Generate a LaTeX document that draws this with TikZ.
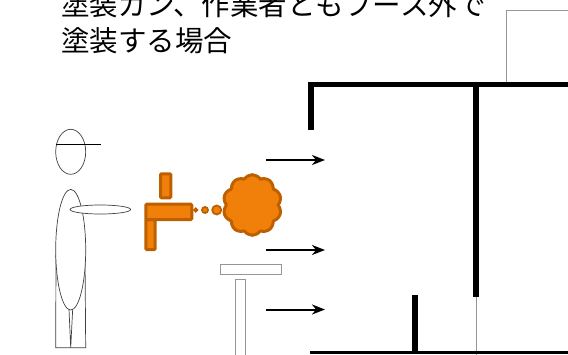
\documentclass[tikz,border=0pt]{standalone}
\usepackage{fontspec}
\newfontfamily\cjk{Noto Sans CJK JP}
\usetikzlibrary{arrows.meta,shapes.symbols}

\definecolor{paint}{RGB}{240,128,10}
\definecolor{paintline}{RGB}{190,95,0}
\definecolor{frame}{RGB}{150,150,150}

\begin{document}
\begin{tikzpicture}[x=1pt,y=-1pt,
  wall/.style={line width=5.7pt},
  thin/.style={draw=frame,line width=1pt},
  body/.style={draw=black!75,line width=0.7pt,fill=white},
  gun/.style={draw=paintline,fill=paint,line width=3pt,rounded corners=1pt},
  air/.style={-{Stealth[length=13pt,width=10pt,inset=4pt]},line width=2pt},
  title/.style={font=\cjk\fontsize{28.5pt}{36pt}\selectfont,inner sep=0pt,anchor=base west}]

\useasboundingbox (0,0) rectangle (568,354);

% heading
\node[title](head1) at (61,15){塗装ガン、作業者ともブース外で};
\node[title](head2) at (61,51.5){塗装する場合};

% booth walls
\draw[thin] (506,82) -- (506,10) -- (568,10);
\draw[thin] (476,296) -- (476,356);
\draw[wall] (310.7,130) -- (310.7,84.5) -- (568,84.5);
\draw[wall] (476,87) -- (476,296.7);
\draw[wall] (415.3,295) -- (415.3,352);
\draw[line width=2.5pt] (310,352.7) -- (568,352.7);

% worker
\draw[body] (56,255) -- (55.7,347.7) -- (85.7,347.7) -- (85,255);
\draw[body] (69,309) -- (70.7,347.7) -- (72.7,309);
\draw[body] (70.7,249.7) ellipse (15pt and 60.3pt);
\draw[body] (70.7,151.8) ellipse (15pt and 22.5pt);
\draw[line width=0.8pt] (56.3,144.3) -- (100.7,144.3);
\draw[body] (100.3,209.5) ellipse (30.3pt and 4.5pt);

% stand
\draw[thin,line width=0.8pt] (220.7,264.3) rectangle (281,274.3);
\draw[thin,line width=0.8pt] (235.7,360) -- (235.7,279.3) -- (245.7,279.3) -- (245.7,360);

% spray gun and mist
\draw[gun] (160.5,173.8) rectangle (170.8,197.8);
\draw[gun] (145.8,219.5) rectangle (155.2,249.5);
\draw[gun] (145.8,204.2) rectangle (191.8,219.5);
\draw[gun,line width=1.8pt] (195.7,210) circle (1.6pt);
\draw[gun,line width=1.8pt] (205,210) circle (3pt);
\draw[gun,line width=1.8pt] (216.7,210) circle (4.5pt);
\node[cloud,gun,cloud puffs=10,cloud puff arc=125,aspect=1,minimum width=58.5pt,minimum height=60.6pt,inner sep=0pt](spray) at (252.3,205){};

% air flow into the booth
\foreach \y [count=\i] in {160,250,309.5}{
  \coordinate (a\i) at (266,\y);
  \coordinate (b\i) at (325,\y);
  \draw[air] (a\i) -- (b\i);
}

\end{tikzpicture}
\end{document}
